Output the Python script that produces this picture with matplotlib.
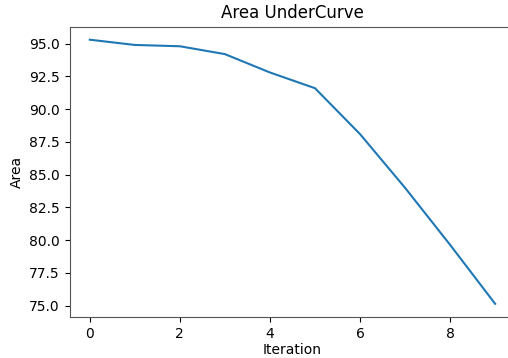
import matplotlib
matplotlib.use("Agg")
import matplotlib.pyplot as plt

iterations = [0, 1, 2, 3, 4, 5, 6, 7, 8, 9]
area = [95.3, 94.9, 94.8, 94.2, 92.8, 91.6, 88.1, 84.0, 79.65, 75.15]

fig = plt.figure(figsize=(5.08, 3.58), dpi=100)
ax = fig.add_axes([69.5 / 508, 1 - 317 / 358, (515.4 - 69.5) / 508, (317 - 26.5) / 358])
ax.plot(iterations, area, color='#1f77b4')

ax.set_title('Area UnderCurve')
ax.set_xlabel('Iteration', labelpad=2)
ax.set_ylabel('Area')
ax.spines['right'].set_visible(False)
for s in ['left', 'top', 'bottom']:
    ax.spines[s].set_color('#555555')

fig.savefig('out.png', dpi=100)
